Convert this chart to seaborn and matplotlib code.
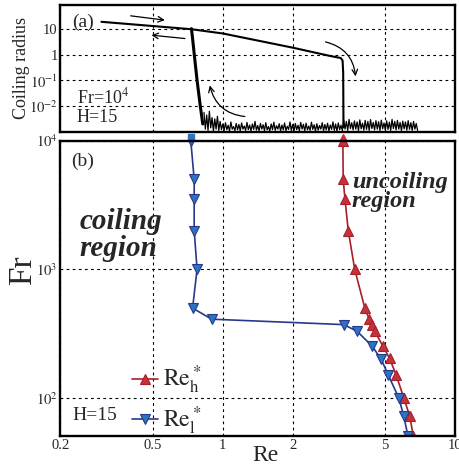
import numpy as np
import pandas as pd
import seaborn as sns
import matplotlib
matplotlib.use('Agg')
from matplotlib import pyplot as plt
from matplotlib.ticker import FixedLocator, FixedFormatter, NullFormatter

# --- panel (a): coiling radius vs Re at Fr=1e4 ---
up_re = [0.30, 0.73, 1.0, 2.0, 2.9, 3.22, 3.28, 3.30, 3.31]
up_r = [19.4, 10.0, 6.8, 1.9, 0.9, 0.75, 0.6, 0.2, 0.0015]

down_re = [0.733, 0.743, 0.753, 0.775, 0.80, 0.82]
down_r = [10.5, 3.5, 1.1, 0.1, 0.01, 0.002]

# noise floor (log10 of radius)
noise_a = [-2.25, -2.9, -2.35, -2.95, -2.2, -2.85, -2.45, -2.98, -2.5, -2.9, -2.4, -2.95, -2.6, -2.92]
noise_b = [-2.7, -2.95, -2.65, -2.92, -2.75, -2.98, -2.62, -2.9, -2.8, -2.96,
           -2.68, -2.93, -2.72, -2.97, -2.66, -2.9, -2.78, -2.95, -2.64, -2.92,
           -2.74, -2.98, -2.7, -2.91, -2.6, -2.94, -2.76, -2.97, -2.68, -2.9,
           -2.73, -2.96, -2.65, -2.93, -2.8, -2.98, -2.7, -2.92, -2.63, -2.95,
           -2.77, -2.9, -2.69, -2.97, -2.74, -2.93, -2.66, -2.96, -2.79, -2.91,
           -2.62, -2.95, -2.72, -2.98, -2.68, -2.92, -2.75, -2.96, -2.64, -2.9,
           -2.71, -2.97, -2.67, -2.93, -2.78, -2.95, -2.63, -2.91, -2.73, -2.98,
           -2.69, -2.94, -2.76, -2.9, -2.65, -2.96, -2.72, -2.93, -2.67, -2.97,
           -2.74, -2.91, -2.62, -2.95, -2.7, -2.98, -2.66, -2.92, -2.75, -2.96]
noise_c = [-2.55, -2.9, -2.6, -2.95, -2.52, -2.88, -2.65, -2.93, -2.58, -2.9,
           -2.62, -2.96, -2.54, -2.89, -2.67, -2.94, -2.56, -2.91, -2.6, -2.95,
           -2.53, -2.88, -2.64, -2.93, -2.57, -2.9, -2.61, -2.96, -2.55, -2.89,
           -2.66, -2.94, -2.58, -2.91, -2.63, -2.95, -2.52, -2.88, -2.6, -2.93,
           -2.56, -2.9, -2.64, -2.96, -2.59, -2.89, -2.62, -2.94, -2.57, -2.91,
           -2.65, -2.95, -2.6, -2.9, -2.68, -2.95]
noise_log = noise_a + noise_b + noise_c
noise_re = np.geomspace(0.83, 6.9, len(noise_log))

# --- panel (b): threshold Re vs Fr, H=15 ---
reh = [3.29, 3.30, 3.36, 3.47, 3.70, 4.09, 4.26, 4.40, 4.51, 4.89, 5.23, 5.58, 6.02, 6.39, 6.61]
frh = [10000, 5000, 3500, 2000, 1000, 500, 415, 368, 332, 253, 203, 151, 100, 72, 51]

rel = [0.728, 0.753, 0.753, 0.753, 0.775, 0.741, 0.896, 3.32, 3.79, 4.40, 4.81, 5.16, 5.73, 6.02, 6.27]
frl = [10000, 5000, 3500, 2000, 1000, 500, 410, 372, 330, 253, 200, 151, 100, 72, 51]

xticks = [0.2, 0.5, 1, 2, 5, 10]
xticklabels = ['0.2', '0.5', '1', '2', '5', '10']
xminor = [0.3, 0.4, 0.6, 0.7, 0.8, 0.9, 3, 4, 6, 7, 8, 9]

red_line, red_face = '#a81e2a', '#c4323c'
blue_line, blue_face = '#26388c', '#2e72c2'

sns.set_style('white')
plt.rcParams['font.family'] = ['Liberation Serif', 'DejaVu Serif']
plt.rcParams['mathtext.fontset'] = 'stix'

fig = plt.figure(figsize=(4.6, 4.74), dpi=100)
ax1 = fig.add_axes([0.1315, 0.7222, 0.8576, 0.2673])
ax2 = fig.add_axes([0.1315, 0.0802, 0.8576, 0.623])

grid_kw = dict(color='k', lw=0.8, ls=(0, (2.5, 3)))

# panel (a)
sns.lineplot(x=noise_re, y=10 ** np.array(noise_log), ax=ax1, color='k', lw=0.9,
             estimator=None, sort=False)
sns.lineplot(x=up_re, y=up_r, ax=ax1, color='k', lw=1.5, estimator=None, sort=False)
sns.lineplot(x=down_re, y=down_r, ax=ax1, color='k', lw=2.2, estimator=None, sort=False)

# panel (b)
sns.lineplot(x=reh, y=frh, ax=ax2, color=red_line, lw=1.2, marker='^', ms=6.5,
             mfc=red_face, mec=red_line, mew=0.8, estimator=None, sort=False,
             label=r'$\mathrm{Re}_\mathrm{h}^*$')
sns.lineplot(x=rel, y=frl, ax=ax2, color=blue_line, lw=1.2, marker='v', ms=6.5,
             mfc=blue_face, mec=blue_line, mew=0.8, estimator=None, sort=False,
             label=r'$\mathrm{Re}_\mathrm{l}^*$')

for ax in (ax1, ax2):
    ax.set_xscale('log')
    ax.set_yscale('log')
    ax.set_xlim(0.2, 10)
    for s in ax.spines.values():
        s.set_linewidth(1.7)
        s.set_color('k')
    ax.xaxis.set_major_locator(FixedLocator(xticks))
    ax.xaxis.set_minor_locator(FixedLocator(xminor))
    ax.xaxis.set_minor_formatter(NullFormatter())
    ax.tick_params(which='major', direction='in', length=5, width=1.1, labelsize=10.5, pad=2)
    ax.tick_params(which='minor', direction='in', length=3, width=0.9)
    ax.set_xlabel('')
    ax.set_ylabel('')

ax1.set_ylim(1e-3, 88)
ax1.yaxis.set_major_locator(FixedLocator([1e-3, 1e-2, 1e-1, 1, 10]))
ax1.yaxis.set_major_formatter(FixedFormatter(['', r'$10^{-2}$', r'$10^{-1}$', '1', '10']))
ax1.set_xticklabels([])

ax2.set_ylim(50.7, 1e4)
ax2.yaxis.set_major_locator(FixedLocator([1e2, 1e3, 1e4]))
ax2.yaxis.set_major_formatter(FixedFormatter([r'$10^2$', r'$10^3$', r'$10^4$']))
ax2.set_xticklabels(xticklabels)

for ax in (ax1, ax2):
    ax.grid(True, which='major', **grid_kw)
    ax.grid(False, which='minor')
    ax.set_axisbelow(True)

# small markers between the panels
ax1.plot([0.73], [10 ** -3.2], marker='s', ms=4, color=blue_face, clip_on=False, zorder=5)
ax1.plot([3.30], [10 ** -3.25], marker='^', ms=6, color=red_face, clip_on=False, zorder=5)

arrow_kw = dict(arrowstyle='->', color='k', lw=0.9, shrinkA=0, shrinkB=0)
ax1.annotate('', xy=(0.563, 22.5), xytext=(0.401, 33.2), arrowprops=arrow_kw)
ax1.annotate('', xy=(0.493, 5.82), xytext=(0.687, 4.32), arrowprops=arrow_kw)
ax1.annotate('', xy=(3.73, 0.144), xytext=(2.77, 3.18),
             arrowprops=dict(connectionstyle='arc3,rad=-0.35', **arrow_kw))
ax1.annotate('', xy=(0.879, 0.064), xytext=(1.244, 0.0039),
             arrowprops=dict(connectionstyle='arc3,rad=-0.35', **arrow_kw))

ax1.text(0.029, 0.866, '(a)', transform=ax1.transAxes, fontsize=14, va='center')
ax1.text(0.041, 0.274, r'Fr=10$^4$', transform=ax1.transAxes, fontsize=13, va='center')
ax1.text(0.041, 0.108, 'H=15', transform=ax1.transAxes, fontsize=13, va='center')

ax2.legend(loc='center left', bbox_to_anchor=(0.182, 0.12), frameon=False, fontsize=17,
           handlelength=1.1, handletextpad=0.2, labelspacing=0.35, borderpad=0,
           borderaxespad=0)

ax2.text(0.049, 0.68, 'coiling\nregion', transform=ax2.transAxes, fontsize=21,
         fontweight='bold', fontstyle='italic', va='center', ha='left', linespacing=1.0)
ax2.text(0.738, 0.826, 'uncoiling\nregion', transform=ax2.transAxes, fontsize=17.5,
         fontweight='bold', fontstyle='italic', va='center', ha='left', linespacing=0.9)
ax2.text(0.026, 0.929, '(b)', transform=ax2.transAxes, fontsize=14, va='center')
ax2.text(0.031, 0.071, 'H=15', transform=ax2.transAxes, fontsize=14, va='center')

fig.text(0.047, 0.857, 'Coiling radius', rotation=90, fontsize=13, ha='center', va='center')
fig.text(0.05, 0.43, 'Fr', rotation=90, fontsize=24, ha='center', va='center')
fig.text(0.578, 0.04, 'Re', fontsize=17, ha='center', va='center')

fig.savefig('out.png', dpi=100)
